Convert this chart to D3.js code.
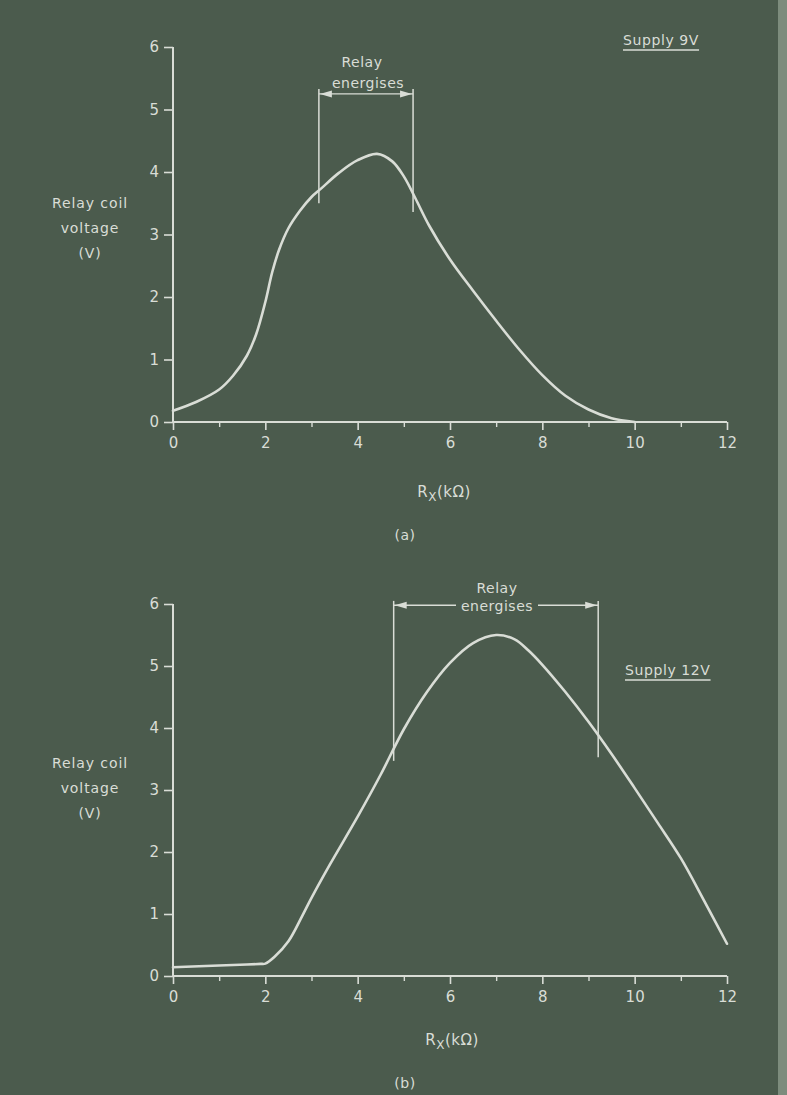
<!DOCTYPE html>
<html>
<head>
<meta charset="utf-8">
<script src="https://cdn.jsdelivr.net/npm/d3@7"></script>
<style>
  html, body { margin: 0; padding: 0; background: #4b5b4d; }
  svg { display: block; }
  text { font-family: "DejaVu Sans", "Liberation Sans", sans-serif; fill: #d9ddd6; }
</style>
</head>
<body>
<svg id="chart" width="787" height="1095"></svg>
<script>
// ---------- data ----------
const xTicks = [0, 2, 4, 6, 8, 10, 12];
const xMinorTicks = [1, 3, 5, 7, 9, 11];
const yTicks = [0, 1, 2, 3, 4, 5, 6];
const yLabelLines = ["Relay coil", "voltage", "(V)"];
const relayLabel = ["Relay", "energises"];

// (a) Supply 9V
const curveA_x = [0, 0.5, 1, 1.3, 1.6, 1.8, 2.0, 2.15, 2.3, 2.5, 2.75, 3.0, 3.2, 3.6, 4.0, 4.42, 4.75, 5.0, 5.25, 5.55, 6.0, 6.5, 7.0, 7.5, 8.0, 8.5, 9.0, 9.5, 10];
const curveA_y = [0.18, 0.32, 0.52, 0.74, 1.06, 1.4, 1.92, 2.4, 2.76, 3.1, 3.38, 3.6, 3.73, 3.99, 4.19, 4.29, 4.17, 3.93, 3.58, 3.14, 2.6, 2.1, 1.62, 1.16, 0.75, 0.42, 0.2, 0.06, 0];
const bracketA_x = [3.16, 5.2];        // Relay energises limits (kΩ)
const bracketA_bottom = [3.5, 3.36];   // lower ends of limit lines (V)
const bracketA_top = 5.33;
const bracketA_arrow = 5.25;

// (b) Supply 12V
const curveB_x = [0, 1, 1.6, 1.9, 2, 2.2, 2.5, 2.8, 3.0, 3.4, 4.0, 4.5, 5.0, 5.5, 6.0, 6.5, 7.0, 7.4, 7.7, 8.0, 8.5, 9.0, 9.5, 10, 10.5, 11, 11.5, 12];
const curveB_y = [0.14, 0.17, 0.185, 0.195, 0.2, 0.31, 0.56, 0.97, 1.26, 1.8, 2.57, 3.25, 3.98, 4.58, 5.05, 5.37, 5.5, 5.43, 5.25, 5.02, 4.58, 4.1, 3.58, 3.03, 2.47, 1.9, 1.22, 0.52];
const bracketB_x = [4.78, 9.21];
const bracketB_bottom = [3.47, 3.53];
const bracketB_top = 6.05;
const bracketB_arrow = 5.98;

const panels = [
  { id: "a", supply: "Supply 9V", cx: curveA_x, cy: curveA_y, bx: bracketA_x, bb: bracketA_bottom, bt: bracketA_top, ba: bracketA_arrow,
    yRange: [422, 47], supplyPos: [623, 45], relayPos: [[362, 67], [368, 88]], gap: false, yLab: [203, 228, 253], rx: [444, 497], cap: [405, 540], capText: "(a)" },
  { id: "b", supply: "Supply 12V", cx: curveB_x, cy: curveB_y, bx: bracketB_x, bb: bracketB_bottom, bt: bracketB_top, ba: bracketB_arrow,
    yRange: [976, 604], supplyPos: [625, 675], relayPos: [[497, 593], [497, 611]], gap: true, yLab: [763, 788, 813], rx: [452, 1045], cap: [405, 1088], capText: "(b)" }
];

const INK = "#d9ddd6";
const svg = d3.select("#chart");

// background + paper edge
svg.append("rect").attr("width", 787).attr("height", 1095).attr("fill", "#4b5b4d");
svg.append("rect").attr("x", 778).attr("width", 9).attr("height", 1095).attr("fill", "#7d8c7d");

const x = d3.scaleLinear().domain([0, 12]).range([173, 727]);

panels.forEach(p => {
  const y = d3.scaleLinear().domain([0, 6]).range(p.yRange);
  const g = svg.append("g");

  // y axis
  const yAx = g.append("g").attr("transform", `translate(${x(0)},0)`)
    .call(d3.axisLeft(y).tickValues(yTicks).tickSize(9).tickPadding(5).tickFormat(d3.format("d")));
  yAx.select(".domain").attr("stroke", INK).attr("stroke-width", 2).attr("d", `M0,${y(6)}V${y(0)}`);
  yAx.selectAll(".tick line").attr("stroke", INK).attr("stroke-width", 1.6);
  yAx.selectAll(".tick text").attr("fill", INK).style("font-size", "15px").style("font-family", "DejaVu Sans");

  // x axis
  const xAx = g.append("g").attr("transform", `translate(0,${y(0)})`)
    .call(d3.axisBottom(x).tickValues(xTicks).tickSize(8).tickPadding(7).tickFormat(d3.format("d")));
  xAx.select(".domain").attr("stroke", INK).attr("stroke-width", 2).attr("d", `M${x(0)},0H${x(12)}`);
  xAx.selectAll(".tick line").attr("stroke", INK).attr("stroke-width", 1.6);
  xAx.selectAll(".tick text").attr("fill", INK).style("font-size", "15px").style("font-family", "DejaVu Sans");
  const xMin = g.append("g").attr("transform", `translate(0,${y(0)})`)
    .call(d3.axisBottom(x).tickValues(xMinorTicks).tickSize(5).tickFormat(""));
  xMin.select(".domain").remove();
  xMin.selectAll(".tick line").attr("stroke", INK).attr("stroke-width", 1.4);

  // curve
  const pts = p.cx.map((v, i) => [v, p.cy[i]]);
  g.append("path").datum(pts)
    .attr("d", d3.line().x(d => x(d[0])).y(d => y(d[1])).curve(d3.curveCatmullRom.alpha(0.5)))
    .attr("fill", "none").attr("stroke", INK).attr("stroke-width", 2.6).attr("stroke-linecap", "round");

  // relay energises bracket
  p.bx.forEach((bx, i) => {
    g.append("line").attr("x1", x(bx)).attr("x2", x(bx)).attr("y1", y(p.bt)).attr("y2", y(p.bb[i]))
      .attr("stroke", INK).attr("stroke-width", 1.5);
  });
  const ay = y(p.ba), xl = x(p.bx[0]), xr = x(p.bx[1]);
  if (p.gap) {
    g.append("line").attr("x1", xl).attr("x2", 456).attr("y1", ay).attr("y2", ay).attr("stroke", INK).attr("stroke-width", 1.4);
    g.append("line").attr("x1", 538).attr("x2", xr).attr("y1", ay).attr("y2", ay).attr("stroke", INK).attr("stroke-width", 1.4);
  } else {
    g.append("line").attr("x1", xl).attr("x2", xr).attr("y1", ay).attr("y2", ay).attr("stroke", INK).attr("stroke-width", 1.4);
  }
  g.append("path").attr("d", `M${xl + 1},${ay}L${xl + 13},${ay - 3.5}L${xl + 13},${ay + 3.5}Z`).attr("fill", INK);
  g.append("path").attr("d", `M${xr - 1},${ay}L${xr - 13},${ay - 3.5}L${xr - 13},${ay + 3.5}Z`).attr("fill", INK);

  relayLabel.forEach((t, i) => {
    g.append("text").attr("x", p.relayPos[i][0]).attr("y", p.relayPos[i][1])
      .attr("text-anchor", "middle").style("font-size", "14px").style("letter-spacing", "0.5px").text(t);
  });

  // supply label with underline
  const st = g.append("text").attr("x", p.supplyPos[0]).attr("y", p.supplyPos[1])
    .style("font-size", "14px").style("letter-spacing", "0.6px").text(p.supply);
  const w = st.node().getComputedTextLength();
  g.append("line").attr("x1", p.supplyPos[0]).attr("x2", p.supplyPos[0] + w)
    .attr("y1", p.supplyPos[1] + 5).attr("y2", p.supplyPos[1] + 5).attr("stroke", INK).attr("stroke-width", 1.4);

  // y title
  yLabelLines.forEach((t, i) => {
    g.append("text").attr("x", 90).attr("y", p.yLab[i] + 5).attr("text-anchor", "middle")
      .style("font-size", "14px").style("letter-spacing", "0.9px").text(t);
  });

  // x title
  const xt = g.append("text").attr("x", p.rx[0]).attr("y", p.rx[1]).attr("text-anchor", "middle")
    .style("font-size", "15px").style("letter-spacing", "0.5px");
  xt.append("tspan").text("R");
  xt.append("tspan").attr("dy", 4).style("font-size", "12px").text("X");
  xt.append("tspan").attr("dy", -4).text("(kΩ)");

  // caption
  g.append("text").attr("x", p.cap[0]).attr("y", p.cap[1]).attr("text-anchor", "middle")
    .style("font-size", "14px").style("letter-spacing", "0.5px").text(p.capText);
});
</script>
</body>
</html>
